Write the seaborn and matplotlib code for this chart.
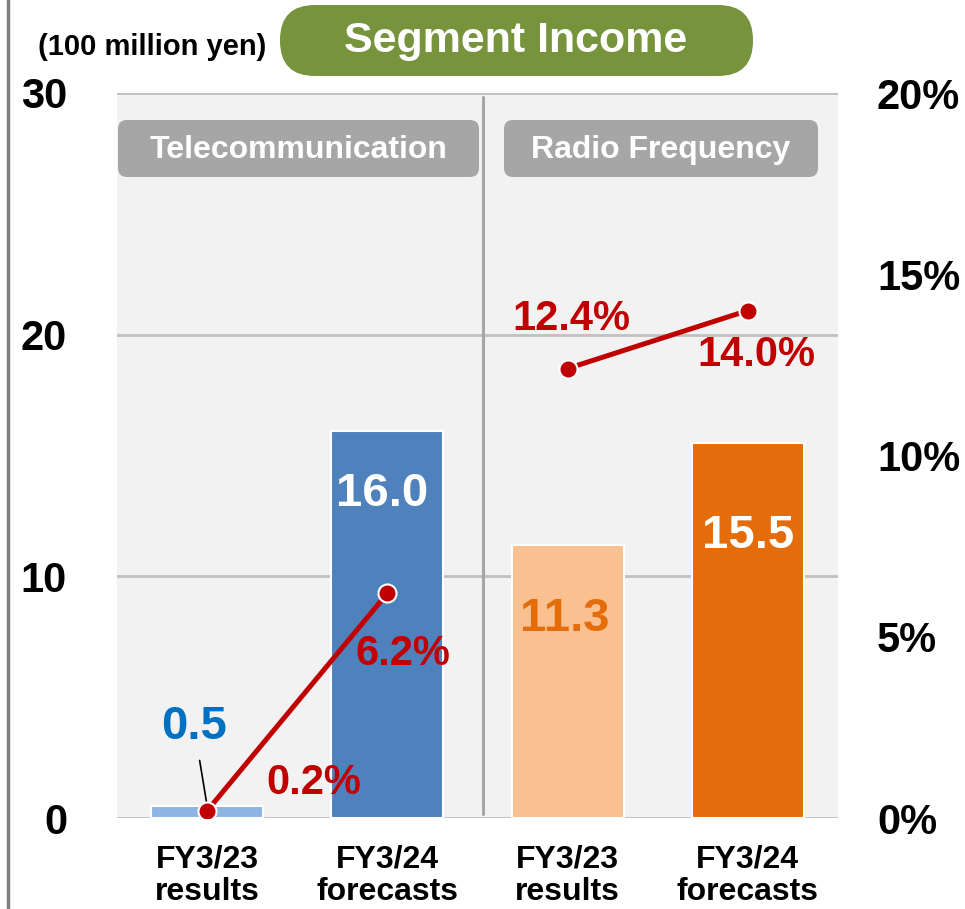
"""
Segment income bars (100 million yen) with operating margin lines on a twin axis.
"""
import matplotlib
matplotlib.use("Agg")
import matplotlib.pyplot as plt
from matplotlib.patches import FancyBboxPatch
from matplotlib.lines import Line2D
import seaborn as sns
import pandas as pd

segments = ["Telecommunication", "Telecommunication", "Radio Frequency", "Radio Frequency"]
periods = ["FY3/23\nresults", "FY3/24\nforecasts", "FY3/23\nresults", "FY3/24\nforecasts"]
income = [0.5, 16.0, 11.3, 15.5]
margin = [0.2, 6.2, 12.4, 14.0]
income_labels = ["0.5", "16.0", "11.3", "15.5"]
margin_labels = ["0.2%", "6.2%", "12.4%", "14.0%"]
left_ticks = [0, 10, 20, 30]
right_ticks = [0, 5, 10, 15, 20]

bar_colors = ["#8EB4E3", "#4F81BD", "#FAC090", "#E46C0A"]
income_label_colors = ["#0070C0", "white", "#E46C0A", "white"]
RED = "#C00000"
GREEN = "#77933C"
BOX_GRAY = "#A6A6A6"

# label offsets in pixels from the mark
income_offsets = [(-13, 79), (-5, -63), (-3, -74), (0, -93)]
margin_offsets = [(107, 28), (16, -61), (4, 50), (9, -44)]

df = pd.DataFrame({
    "slot": [f"{s} {p}" for s, p in zip(segments, periods)],
    "segment": segments,
    "income": income,
    "margin": margin,
    "pos": range(len(income)),
})

sns.set_theme(style="white")
plt.rcParams["font.family"] = ["Liberation Sans", "DejaVu Sans"]
plt.rcParams["font.weight"] = "bold"

W, H = 965, 909
fig = plt.figure(figsize=(W / 100, H / 100), dpi=100)
ax = fig.add_axes([117 / W, 1 - 818 / H, (838 - 117) / W, (818 - 93) / H])
ax.set_facecolor("#F2F2F2")

sns.barplot(data=df, x="slot", y="income", hue="slot", order=df["slot"],
            palette=bar_colors, saturation=1, width=0.62, edgecolor="white",
            linewidth=1.5, legend=False, ax=ax)

ax.set_ylim(0, 30)
ax.set_yticks(left_ticks)
ax.set_yticklabels([str(t) for t in left_ticks], fontsize=30, fontweight="bold")
ax.set_xticks(range(len(periods)))
ax.set_xticklabels(periods, fontsize=23, fontweight="bold", linespacing=1.1)
ax.tick_params(axis="y", length=0, pad=36, colors="black")
ax.tick_params(axis="x", length=0, pad=19, colors="black")
ax.set_xlabel("")
ax.set_ylabel("")
ax.set_axisbelow(True)
ax.grid(axis="y", color="#C0C0C0", lw=2)
ax.grid(axis="x", visible=False)
for s in ax.spines.values():
    s.set_visible(False)
# divider between the two segments
ax.axvline(1.53, ymin=0.006, ymax=0.994, color="#A6A6A6", lw=2.2, zorder=1)

for i, (v, lab) in enumerate(zip(income, income_labels)):
    kw = {}
    if i == 0:
        kw["arrowprops"] = dict(arrowstyle="-", color="black", lw=1.2, shrinkA=6, shrinkB=2)
    ax.annotate(lab, xy=(i, v), xytext=income_offsets[i], textcoords="offset pixels",
                ha="center", va="center", fontsize=34, fontweight="bold",
                color=income_label_colors[i], **kw)

ax2 = ax.twinx()
for seg in ["Telecommunication", "Radio Frequency"]:
    sub = df[df["segment"] == seg]
    sns.lineplot(data=sub, x="pos", y="margin", color=RED, lw=3.6, marker="o",
                 markersize=13, markeredgecolor="white", markeredgewidth=1.5,
                 ax=ax2, zorder=5)
ax2.set_ylim(0, 20)
ax2.set_yticks(right_ticks)
ax2.set_yticklabels([f"{t}%" for t in right_ticks], fontsize=30, fontweight="bold")
ax2.tick_params(axis="y", length=0, pad=28, colors="black")
ax2.set_xlabel("")
ax2.set_ylabel("")
for s in ax2.spines.values():
    s.set_visible(False)
ax2.grid(False)

for i, (v, lab) in enumerate(zip(margin, margin_labels)):
    ax2.annotate(lab, xy=(i, v), xytext=margin_offsets[i], textcoords="offset pixels",
                 ha="center", va="center", fontsize=30, fontweight="bold", color=RED)

ax.set_xlim(-0.5, 3.5)
ax2.set_xlim(-0.5, 3.5)

# overlay in pixel coordinates for the title and the segment boxes
ov = fig.add_axes([0, 0, 1, 1])
ov.set_xlim(0, W)
ov.set_ylim(H, 0)
ov.axis("off")

ov.add_line(Line2D([8, 8], [0, H], color="#7F7F7F", lw=2.5))

ov.add_patch(FancyBboxPatch((280, 5), 473, 71, boxstyle="round,pad=0,rounding_size=35",
                            fc=GREEN, ec="none"))
ov.text(516, 41, "Segment Income", ha="center", va="center", fontsize=31,
        fontweight="bold", color="white")
ov.text(152, 47, "(100 million yen)", ha="center", va="center", fontsize=21,
        fontweight="bold", color="black")

for x0, x1, name in [(118, 479, "Telecommunication"), (504, 818, "Radio Frequency")]:
    ov.add_patch(FancyBboxPatch((x0, 120), x1 - x0, 57, boxstyle="round,pad=0,rounding_size=9",
                                fc=BOX_GRAY, ec="none"))
    ov.text((x0 + x1) / 2, 150, name, ha="center", va="center", fontsize=23,
            fontweight="bold", color="white")

fig.savefig("out.png", dpi=100)
